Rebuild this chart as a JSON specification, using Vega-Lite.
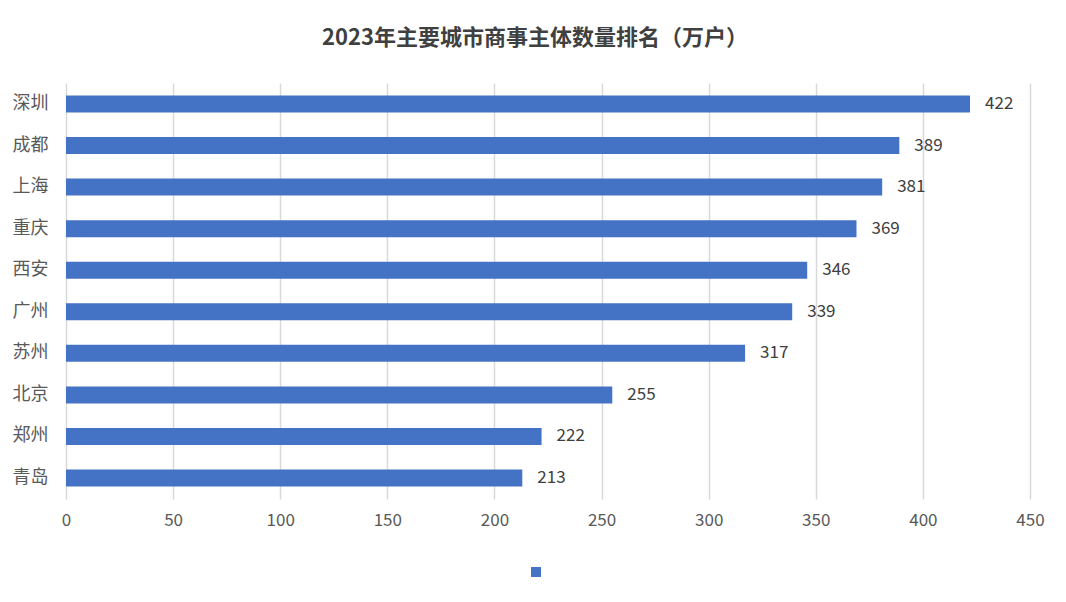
{
  "$schema": "https://vega.github.io/schema/vega-lite/v6.json",
  "autosize": {"type": "none"},
  "width": 964,
  "height": 416,
  "padding": {"left": 66, "top": 83, "right": 36, "bottom": 103},
  "background": "white",
  "config": {
    "font": "Noto Sans CJK SC",
    "view": {"stroke": null}
  },
  "title": {
    "text": "2023年主要城市商事主体数量排名（万户）",
    "fontSize": 22,
    "fontWeight": "bold",
    "color": "#404040",
    "anchor": "middle",
    "dx": -13,
    "offset": 33
  },
  "data": {
    "values": [
      {"city": "深圳", "value": 422},
      {"city": "成都", "value": 389},
      {"city": "上海", "value": 381},
      {"city": "重庆", "value": 369},
      {"city": "西安", "value": 346},
      {"city": "广州", "value": 339},
      {"city": "苏州", "value": 317},
      {"city": "北京", "value": 255},
      {"city": "郑州", "value": 222},
      {"city": "青岛", "value": 213}
    ]
  },
  "encoding": {
    "y": {
      "field": "city",
      "type": "nominal",
      "sort": null,
      "scale": {"paddingInner": 0.59, "paddingOuter": 0.3},
      "axis": {
        "title": null,
        "ticks": false,
        "domain": false,
        "labelFontSize": 18,
        "labelColor": "#595959",
        "labelPadding": 18
      }
    },
    "x": {
      "field": "value",
      "type": "quantitative",
      "scale": {"domain": [0, 450], "nice": false},
      "axis": {
        "title": null,
        "values": [0, 50, 100, 150, 200, 250, 300, 350, 400, 450],
        "ticks": false,
        "domain": false,
        "grid": true,
        "gridColor": "#d9d9d9",
        "gridWidth": 1.5,
        "labelFontSize": 17,
        "labelColor": "#595959",
        "labelPadding": 13,
        "labelFlush": false,
        "labelOverlap": false
      }
    }
  },
  "layer": [
    {
      "mark": {"type": "bar", "color": "#4472C4"},
      "encoding": {
        "color": {
          "datum": "数量",
          "scale": {"range": ["#4472C4"]},
          "legend": {
            "orient": "none",
            "legendX": 465,
            "legendY": 484,
            "title": null,
            "symbolType": "square",
            "symbolSize": 100,
            "symbolStrokeWidth": 0,
            "labelExpr": "''",
            "labelFontSize": 1
          }
        }
      }
    },
    {
      "mark": {"type": "text", "align": "left", "dx": 15, "fontSize": 17, "color": "#404040"},
      "encoding": {"text": {"field": "value", "type": "quantitative"}}
    }
  ]
}
